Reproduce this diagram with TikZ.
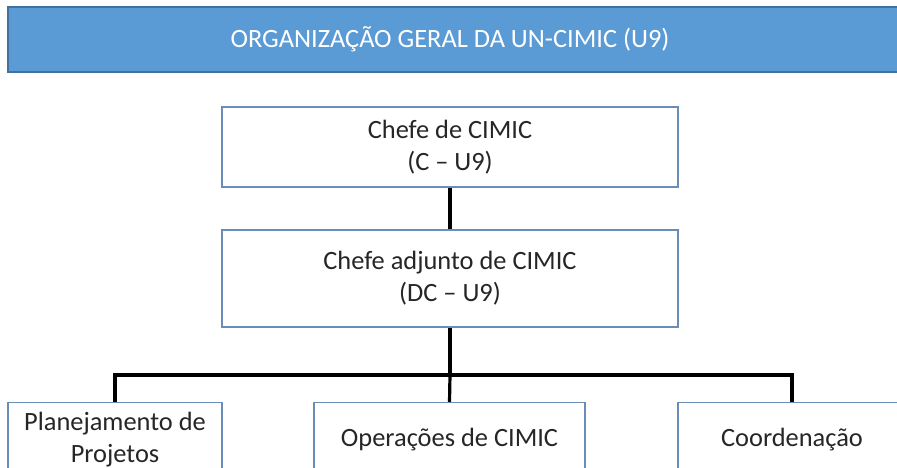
\documentclass[tikz,border=0pt]{standalone}
\usepackage{fontspec}
\setmainfont{Carlito}
\definecolor{hdrfill}{HTML}{5B9BD5}
\definecolor{hdrline}{HTML}{41719C}
\definecolor{boxline}{HTML}{6A8DB8}
\definecolor{txt}{HTML}{262626}
\tikzset{
  hdr/.style={draw=hdrline, line width=1.2bp, fill=hdrfill, text=white, inner sep=0pt, font=\fontsize{26.4bp}{32bp}\selectfont},
  orgbox/.style={draw=boxline, line width=1.2bp, fill=white, text=txt, inner sep=0pt, align=center, font=\fontsize{26.4bp}{32bp}\selectfont},
  conn/.style={line width=3.2bp, black}
}
\begin{document}
\begin{tikzpicture}[x=1bp,y=-1bp]
\useasboundingbox (0,0) rectangle (897,468);
\clip (0,0) rectangle (897,468);
\fill[white] (0,0) rectangle (897,468);
\node[hdr, minimum width=906bp, minimum height=65bp] (h) at (461,39.5) {\hspace{-22bp}ORGANIZAÇÃO GERAL DA UN-CIMIC (U9)};
\node[orgbox, minimum width=456bp, minimum height=80bp] (c) at (450,147) {Chefe de CIMIC\\(C – U9)};
\node[orgbox, minimum width=456bp, minimum height=97bp] (dc) at (450,278.5) {Chefe adjunto de CIMIC\\(DC – U9)};
\node[orgbox, minimum width=214bp, minimum height=74bp] (p) at (115,439.5) {Planejamento de\\Projetos};
\node[orgbox, minimum width=271bp, minimum height=74bp] (o) at (449.5,439.5) {Operações de CIMIC};
\node[orgbox, minimum width=228bp, minimum height=74bp] (k) at (792,439.5) {Coordenação};
\coordinate (j) at (450,375);
\draw[conn] (c.south) -- (dc.north);
\draw[conn] (dc.south) -- (j);
\draw[conn] (p.north) |- (j) -| (k.north);
\draw[conn] (j) -- (o.north);
\end{tikzpicture}
\end{document}
